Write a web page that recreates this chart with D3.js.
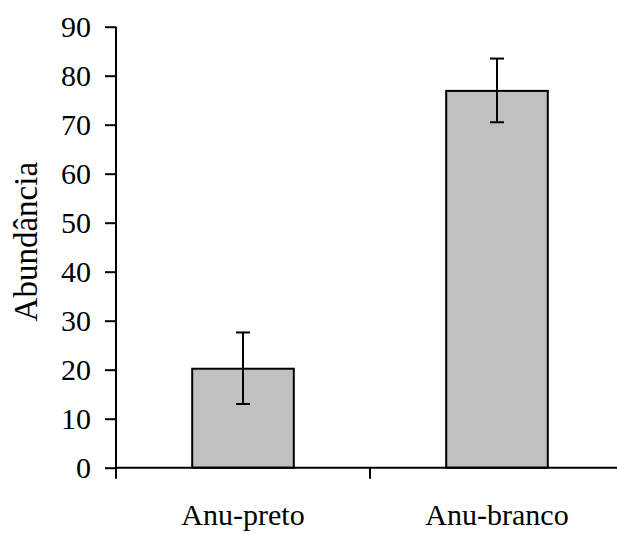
<!DOCTYPE html>
<html>
<head>
<meta charset="utf-8">
<script src="https://cdn.jsdelivr.net/npm/d3@7"></script>
<style>
  html, body { margin: 0; padding: 0; background: #fff; }
  svg { display: block; }
  text { font-family: "Liberation Serif", "Times New Roman", serif; fill: #000; }
</style>
</head>
<body>
<script>
const categories = ["Anu-preto", "Anu-branco"];
const values = [20.2, 76.9];
const errLow = [13.0, 70.5];
const errHigh = [27.6, 83.5];
const yTicks = [0, 10, 20, 30, 40, 50, 60, 70, 80, 90];
const yLabel = "Abundância";

const W = 617, H = 534;
const svg = d3.select("body").append("svg").attr("width", W).attr("height", H);

const x = d3.scaleBand().domain(categories).range([116, 624]).paddingInner(0.6).paddingOuter(0.3);
const y = d3.scaleLinear().domain([0, 90]).range([467.7, 26.7]);

// bars
svg.selectAll("rect.bar").data(categories).enter().append("rect")
  .attr("class", "bar")
  .attr("x", d => x(d))
  .attr("width", x.bandwidth())
  .attr("y", (d, i) => y(values[i]))
  .attr("height", (d, i) => y(0) - y(values[i]))
  .attr("fill", "#c0c0c0")
  .attr("stroke", "#000")
  .attr("stroke-width", 2);

// error bars
const eb = svg.selectAll("g.err").data(categories).enter().append("g").attr("class", "err");
const cx = d => x(d) + x.bandwidth() / 2;
eb.append("line")
  .attr("x1", cx).attr("x2", cx)
  .attr("y1", (d, i) => y(errLow[i])).attr("y2", (d, i) => y(errHigh[i]))
  .attr("stroke", "#000").attr("stroke-width", 2);
eb.append("line")
  .attr("x1", d => cx(d) - 7).attr("x2", d => cx(d) + 7)
  .attr("y1", (d, i) => y(errLow[i])).attr("y2", (d, i) => y(errLow[i]))
  .attr("stroke", "#000").attr("stroke-width", 2);
eb.append("line")
  .attr("x1", d => cx(d) - 7).attr("x2", d => cx(d) + 7)
  .attr("y1", (d, i) => y(errHigh[i])).attr("y2", (d, i) => y(errHigh[i]))
  .attr("stroke", "#000").attr("stroke-width", 2);

// y axis
const yAxis = d3.axisLeft(y).tickValues(yTicks).tickSize(11).tickPadding(14).tickSizeOuter(0);
const gy = svg.append("g").attr("transform", "translate(116,0)").call(yAxis);
gy.select(".domain").attr("stroke", "#000").attr("stroke-width", 2).attr("d", `M0,${y(90)}V${y(0)}`);
gy.selectAll(".tick line").attr("stroke", "#000").attr("stroke-width", 2);
gy.selectAll(".tick text").attr("font-size", 30).attr("font-family", "Liberation Serif").attr("fill", "#000");

// x axis
const bounds = [x.range()[0], x.range()[0] + x.step(), x.range()[0] + 2 * x.step()];
svg.append("line").attr("x1", 116).attr("x2", 624).attr("y1", y(0)).attr("y2", y(0))
  .attr("stroke", "#000").attr("stroke-width", 2);
svg.selectAll("line.xt").data(bounds).enter().append("line").attr("class", "xt")
  .attr("x1", d => d).attr("x2", d => d).attr("y1", y(0)).attr("y2", y(0) + 11)
  .attr("stroke", "#000").attr("stroke-width", 2);
svg.selectAll("text.xl").data(categories).enter().append("text").attr("class", "xl")
  .attr("x", cx).attr("y", 525).attr("text-anchor", "middle")
  .attr("font-size", 30).text(d => d);

// y label
svg.append("text").attr("transform", `translate(37,241.7) rotate(-90)`)
  .attr("text-anchor", "middle").attr("font-size", 33).text(yLabel);
</script>
</body>
</html>
